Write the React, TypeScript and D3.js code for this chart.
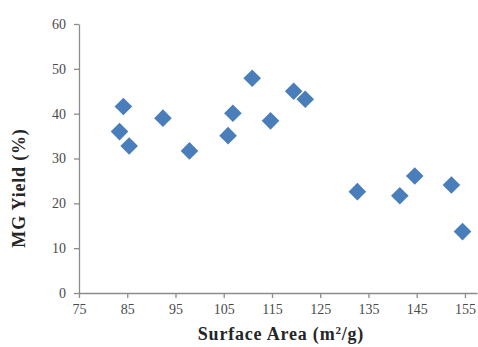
import { useRef, useEffect } from 'react';
import * as d3 from 'd3';

const surfaceArea = [84.2, 83.4, 85.4, 92.4, 97.9, 106.9, 105.9, 110.9, 119.5, 121.9, 114.7, 132.7, 141.5, 144.6, 152.2, 154.5];
const mgYield = [41.6, 36.0, 32.8, 39.0, 31.7, 40.1, 35.1, 47.9, 45.0, 43.2, 38.4, 22.6, 21.7, 26.1, 24.1, 13.7];
const xTicks = [75, 85, 95, 105, 115, 125, 135, 145, 155];
const yTicks = [0, 10, 20, 30, 40, 50, 60];

const W = 478;
const H = 347;
const LEFT = 79;
const RIGHT = 477;
const TOP = 24;
const BOTTOM = 293;

export default function App() {
    const svgRef = useRef<SVGSVGElement>(null);

    useEffect(() => {
        if (!svgRef.current) return;
        const svg = d3.select(svgRef.current);
        svg.selectAll('*').remove();

        const x = d3.scaleLinear().domain([75, 157.5]).range([LEFT, RIGHT]);
        const y = d3.scaleLinear().domain([0, 60]).range([BOTTOM, TOP]);

        const axisColor = '#8c8c8c';
        const labelColor = '#4a4a4a';
        const serif = '"Liberation Serif", "DejaVu Serif", serif';

        // x axis
        const gx = svg.append('g').attr('transform', `translate(0,${BOTTOM})`)
            .call(d3.axisBottom(x).tickValues(xTicks).tickSize(5).tickSizeOuter(0).tickPadding(6));
        gx.select('.domain').attr('stroke', axisColor).attr('stroke-width', 1.3);
        gx.selectAll('.tick line').attr('stroke', axisColor).attr('stroke-width', 1.3);
        gx.selectAll('.tick text').attr('fill', labelColor).attr('font-size', '14px').attr('font-family', serif);

        // y axis
        const gy = svg.append('g').attr('transform', `translate(${LEFT},0)`)
            .call(d3.axisLeft(y).tickValues(yTicks).tickSize(5).tickSizeOuter(0).tickPadding(8));
        gy.select('.domain').attr('stroke', axisColor).attr('stroke-width', 1.3);
        gy.selectAll('.tick line').attr('stroke', axisColor).attr('stroke-width', 1.3);
        gy.selectAll('.tick text').attr('fill', labelColor).attr('font-size', '14px').attr('font-family', serif);

        // points
        const diamond = d3.symbol().type(d3.symbolSquare).size(155);
        svg.append('g').selectAll('path')
            .data(surfaceArea.map((s, i) => [s, mgYield[i]]))
            .join('path')
            .attr('d', diamond as any)
            .attr('transform', d => `translate(${x(d[0])},${y(d[1])}) rotate(45)`)
            .attr('fill', '#4a7ebb');

        // axis titles
        const xt = svg.append('text')
            .attr('x', 281)
            .attr('y', 340)
            .attr('text-anchor', 'middle')
            .attr('font-family', serif)
            .attr('font-weight', 'bold')
            .attr('font-size', '18px')
            .attr('letter-spacing', '0.8px')
            .attr('fill', '#262626');
        xt.append('tspan').text('Surface Area (m');
        xt.append('tspan').attr('baseline-shift', 'super').attr('font-size', '11px').text('2');
        xt.append('tspan').text('/g)');

        svg.append('text')
            .attr('transform', `translate(25,188) rotate(-90)`)
            .attr('text-anchor', 'middle')
            .attr('font-family', serif)
            .attr('font-weight', 'bold')
            .attr('font-size', '18px')
            .attr('letter-spacing', '0.8px')
            .attr('fill', '#262626')
            .text('MG Yield (%)');
    }, []);

    return (
        <svg ref={svgRef} width={W} height={H}
            style={{ position: 'absolute', left: 0, top: 0, background: '#fff' }} />
    );
}
